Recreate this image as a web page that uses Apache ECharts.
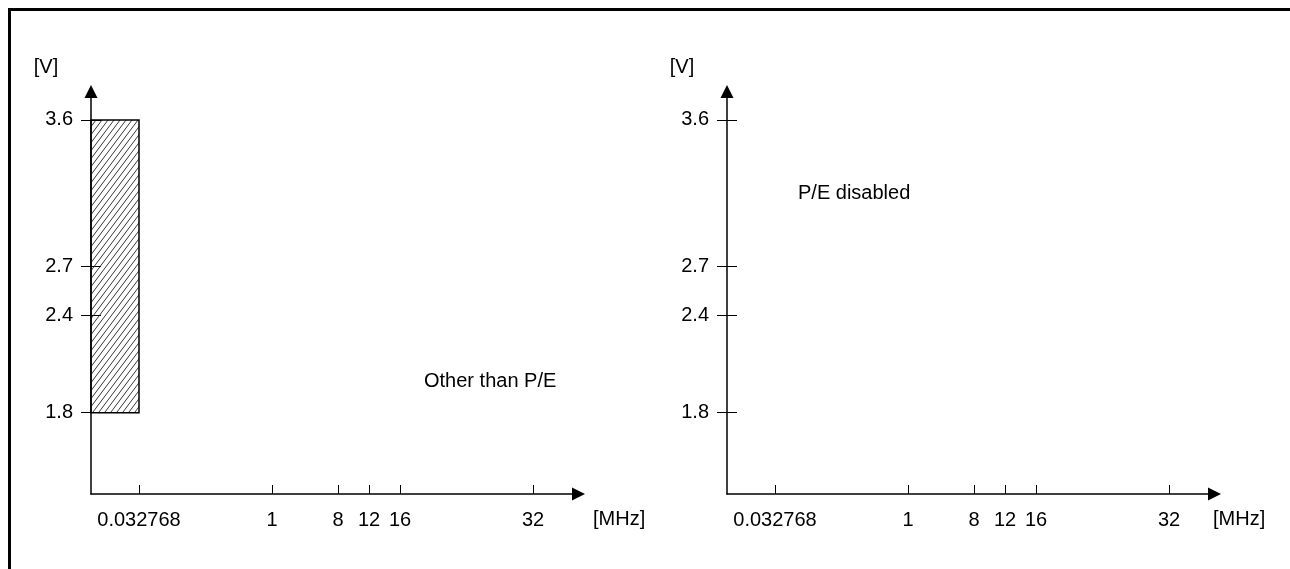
<!DOCTYPE html>
<html>
<head>
<meta charset="utf-8">
<script src="https://cdn.jsdelivr.net/npm/echarts@6/dist/echarts.min.js"></script>
<style>
html,body{margin:0;padding:0;background:#fff;}
#chart{width:1290px;height:569px;}
</style>
</head>
<body>
<div id="chart"></div>
<script>
// ---- data ----
var freqTicks = [0.032768, 1, 8, 12, 16, 32];          // MHz tick values
var freqLabels = ['0.032768', '1', '8', '12', '16', '32'];
var voltTicks = [1.8, 2.4, 2.7, 3.6];                    // V tick values
var bandFreq = [0, 0.032768];                            // operating band (MHz), Other than P/E
var bandVolt = [1.8, 3.6];                               // operating band (V)
var panelTitles = ['Other than P/E', 'P/E disabled'];
var xUnit = '[MHz]';
var yUnit = '[V]';

// schematic (non-proportional) frequency scale: axis unit for each tick value
var freqScale = { 0: 0, 0.032768: 48, 1: 181, 8: 247, 12: 278, 16: 309, 32: 442 };
var X_MAX = 487.5;
function fx(f) { return freqScale[f]; }

var FONT = 'Liberation Sans, Arial, sans-serif';

// hatch pattern
var pc = document.createElement('canvas');
pc.width = 6; pc.height = 8;
var g = pc.getContext('2d');
g.strokeStyle = '#222';
g.lineWidth = 0.9;
for (var k = -1; k <= 1; k++) {
  g.beginPath();
  g.moveTo(k * 6, 8);
  g.lineTo((k + 1) * 6, 0);
  g.stroke();
}
var hatch = { image: pc, repeat: 'repeat' };

var xTickPos = freqTicks.map(fx);
function xLabelFmt(v) {
  var i = xTickPos.indexOf(v);
  return i >= 0 ? freqLabels[i] : '';
}

function makeX(idx) {
  return {
    type: 'value', gridIndex: idx, min: 0, max: X_MAX,
    axisLine: { show: true, symbol: ['none', 'triangle'], symbolSize: [13, 13],
      lineStyle: { color: '#000', width: 1.5 } },
    axisTick: { show: true, inside: true, length: 9, customValues: xTickPos,
      lineStyle: { color: '#000', width: 1 } },
    axisLabel: { show: true, customValues: xTickPos, formatter: xLabelFmt, margin: 16,
      color: '#000', fontSize: 20, fontFamily: FONT },
    splitLine: { show: false }
  };
}
function makeY(idx) {
  return {
    type: 'value', gridIndex: idx, min: 1.3, max: 3.775,
    axisLine: { show: true, symbol: ['none', 'triangle'], symbolSize: [13, 13],
      lineStyle: { color: '#000', width: 1.5 } },
    axisTick: { show: true, inside: false, length: 10, customValues: voltTicks,
      lineStyle: { color: '#000', width: 1 } },
    axisLabel: { show: true, customValues: voltTicks, margin: 18,
      formatter: function (v) { return v.toFixed(1); },
      color: '#000', fontSize: 20, fontFamily: FONT },
    splitLine: { show: false },
    name: yUnit, nameLocation: 'end', nameGap: 24,
    nameTextStyle: { color: '#000', fontSize: 20, fontFamily: FONT, align: 'center',
      verticalAlign: 'middle', padding: [0, 90, 0, 0] }
  };
}
function makeYInner(idx) {
  return {
    type: 'value', gridIndex: idx, min: 1.3, max: 3.775, position: 'left',
    axisLine: { show: false },
    axisTick: { show: true, inside: true, length: 10, customValues: voltTicks,
      lineStyle: { color: '#000', width: 1 } },
    axisLabel: { show: false },
    splitLine: { show: false }
  };
}

var chart = echarts.init(document.getElementById('chart'), null, { renderer: 'canvas' });
chart.setOption({
  animation: false,
  backgroundColor: '#fff',
  textStyle: { fontFamily: FONT },
  grid: [
    { left: 91, top: 91.5, width: X_MAX, height: 402.5, containLabel: false, outerBoundsMode: 'none' },
    { left: 727, top: 91.5, width: X_MAX, height: 402.5, containLabel: false, outerBoundsMode: 'none' }
  ],
  xAxis: [makeX(0), makeX(1)],
  yAxis: [makeY(0), makeY(1), makeYInner(0), makeYInner(1)],
  series: [{
    type: 'custom',
    xAxisIndex: 0, yAxisIndex: 0,
    clip: false,
    data: [[fx(bandFreq[0]), fx(bandFreq[1]), bandVolt[0], bandVolt[1]]],
    renderItem: function (params, api) {
      var p0 = api.coord([api.value(0), api.value(3)]);
      var p1 = api.coord([api.value(1), api.value(2)]);
      return {
        type: 'rect',
        shape: { x: p0[0], y: p0[1], width: p1[0] - p0[0], height: p1[1] - p0[1] },
        style: { fill: hatch, stroke: '#000', lineWidth: 1.5 }
      };
    }
  }],
  graphic: [
    { type: 'rect', left: 8, top: 8, shape: { width: 1282, height: 3 }, style: { fill: '#000' } },
    { type: 'rect', left: 8, top: 8, shape: { width: 3, height: 561 }, style: { fill: '#000' } },
    { type: 'text', left: 593, top: 509, style: { text: xUnit, fill: '#000', font: '20px ' + FONT } },
    { type: 'text', left: 1213, top: 509, style: { text: xUnit, fill: '#000', font: '20px ' + FONT } },
    { type: 'text', left: 424, top: 371, style: { text: panelTitles[0], fill: '#000', font: '20px ' + FONT } },
    { type: 'text', left: 798, top: 183, style: { text: panelTitles[1], fill: '#000', font: '20px ' + FONT } }
  ]
});
</script>
</body>
</html>
